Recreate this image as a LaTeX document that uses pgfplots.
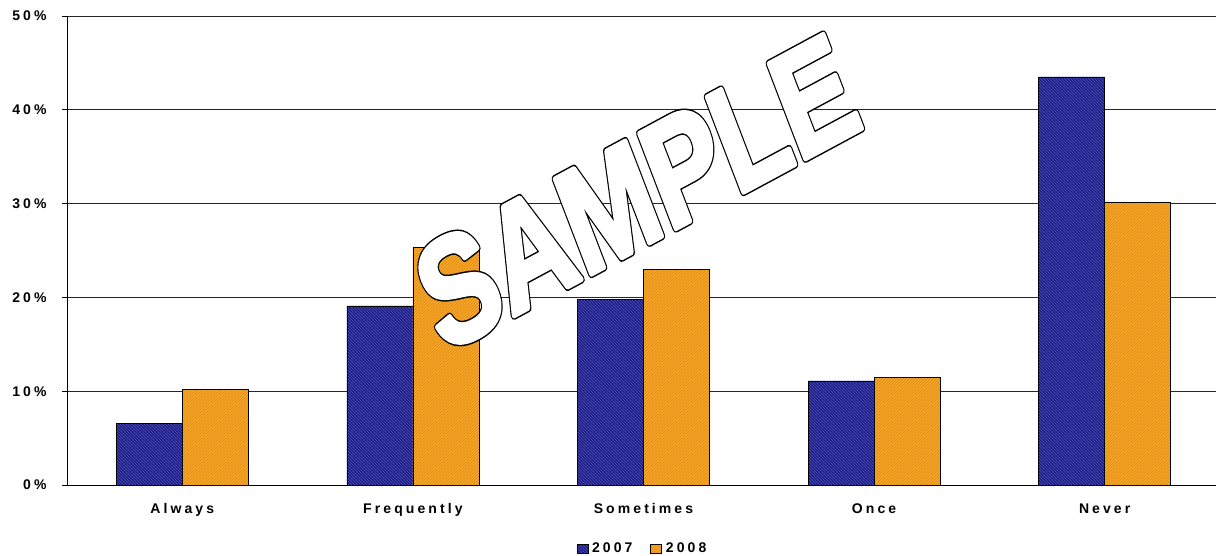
\documentclass[border=0pt]{standalone}
\usepackage{pgfplots}
\pgfplotsset{compat=1.18}
\usepackage{fontspec}
\setmainfont{Liberation Sans}
\newfontfamily\lblfont[LetterSpace=22]{Liberation Sans}
\newfontfamily\bigfont{Liberation Sans}
\usetikzlibrary{patterns}
\definecolor{navy}{RGB}{28,28,138}
\definecolor{navyl}{RGB}{85,85,175}
\definecolor{orng}{RGB}{250,168,38}
\definecolor{orngd}{RGB}{215,135,25}
\begin{document}
\begin{tikzpicture}
\begin{axis}[
  name=ax,
  scale only axis,
  width=1153pt, height=469pt,
  xmin=-0.5, xmax=4.5,
  ymin=0, ymax=50,
  ybar=0pt,
  bar width=66pt,
  axis lines*=left,
  axis line style={black, line width=0.8pt},
  xtick={0,1,2,3,4},
  xticklabels={Always,Frequently,Sometimes,Once,Never},
  x tick style={draw=none},
  extra x ticks={-0.5,0.5,1.5,2.5,3.5,4.5},
  extra x tick labels={},
  extra x tick style={tick style={draw=black, line width=0.6pt}, major tick length=5pt},
  ytick={0,10,20,30,40,50},
  yticklabels={0\%,10\%,20\%,30\%,40\%,50\%},
  y tick style={draw=black, line width=0.6pt},
  tick align=outside,
  major tick length=5pt,
  ymajorgrids,
  grid style={black!85, line width=0.8pt},
  ticklabel style={font=\lblfont\fontsize{14}{16}\selectfont\bfseries},
  xticklabel style={yshift=-10pt},
  yticklabel style={xshift=-12pt},
  legend style={at={(0.5,-0.115)}, anchor=north, legend columns=2, draw=none,
    font=\lblfont\fontsize{14}{16}\selectfont\bfseries,
    /tikz/every even column/.append style={column sep=14pt},
    /tikz/every node/.append style={inner xsep=4pt}},
  legend image code/.code={\draw[#1] (0pt,-4.5pt) rectangle (11pt,4.5pt);},
  clip=false,
]
\addplot[draw=black, line width=0.5pt, fill=navy, postaction={pattern=north west lines, pattern color=navyl}]
  coordinates {(0,6.6) (1,19.1) (2,19.8) (3,11.1) (4,43.5)};
\addplot[draw=black, line width=0.5pt, fill=orng, postaction={pattern=north east lines, pattern color=orngd}]
  coordinates {(0,10.2) (1,25.3) (2,23.0) (3,11.5) (4,30.1)};
\legend{2007,2008}
\coordinate (wm) at (axis cs:1.97,31.2);
\end{axis}
\begin{scope}[shift={(wm)}]
\node[cm={0.685,0.369,-0.358,0.934,(0,0)}, inner sep=0pt] at (0,0)
  {\bigfont\fontsize{148}{150}\selectfont\bfseries\special{pdf:code q 2 Tr 1 j 8 w 0 g 0 G}SAMPLE\special{pdf:code 0 Tr Q}};
\node[cm={0.685,0.369,-0.358,0.934,(0,0)}, inner sep=0pt] at (0,0)
  {\bigfont\fontsize{148}{150}\selectfont\bfseries\special{pdf:code q 2 Tr 1 j 5 w 1 g 1 G}SAMPLE\special{pdf:code 0 Tr Q}};
\end{scope}
\pgfresetboundingbox
\path (ax.south west) ++(-67pt,-71pt) rectangle ++(1216pt,556pt);
\end{tikzpicture}
\end{document}
